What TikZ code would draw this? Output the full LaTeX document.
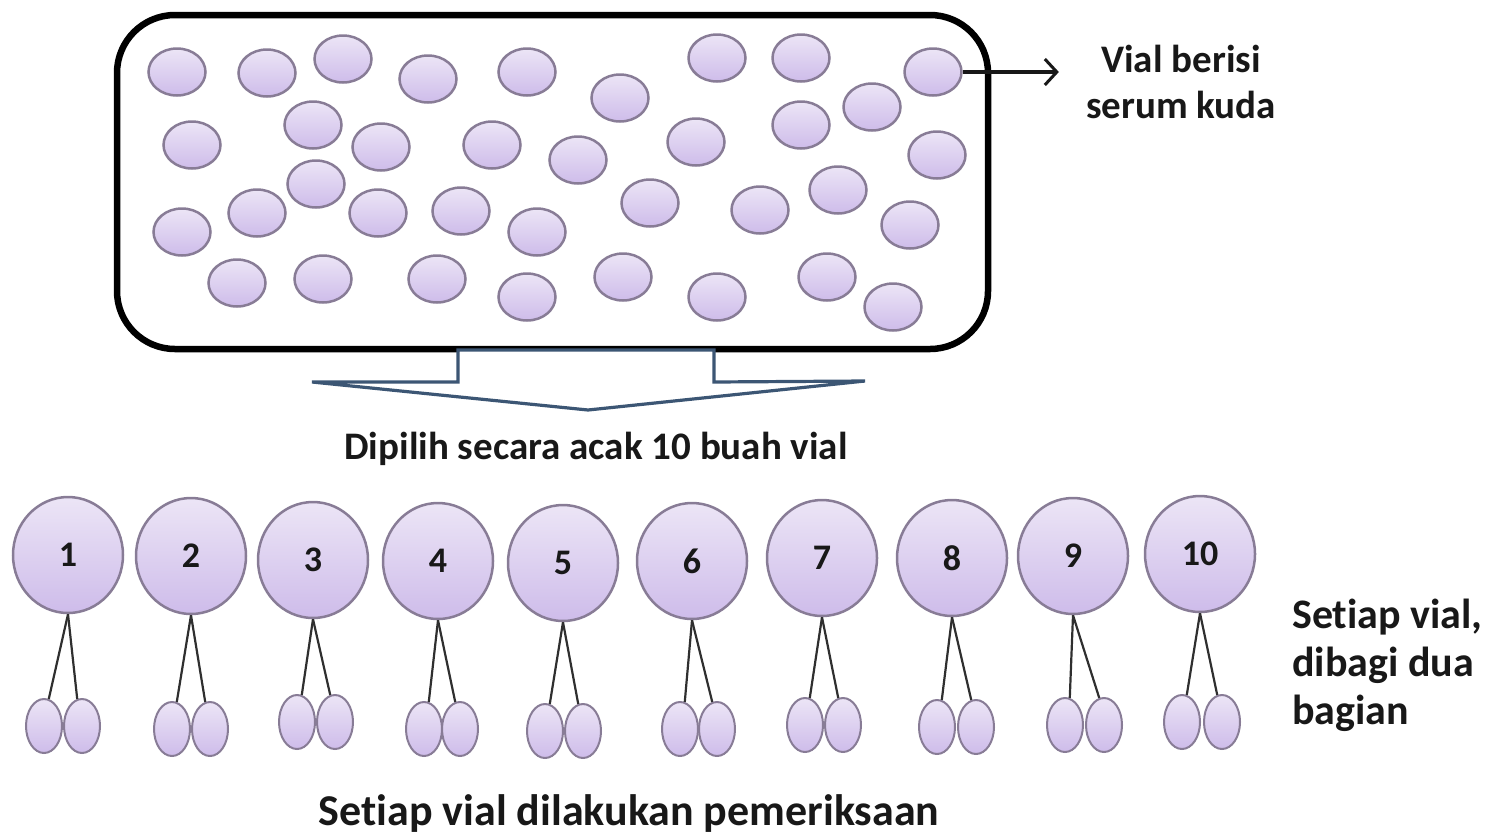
\documentclass[tikz,border=0pt]{standalone}
\usepackage{fontspec}
\setmainfont[Ligatures=NoCommon]{Carlito}
\usepackage{tikz}
\usetikzlibrary{arrows.meta,positioning,shapes.geometric}
\definecolor{vialfill}{RGB}{206,188,234}
\definecolor{vialtop}{RGB}{236,229,246}
\definecolor{vialrim}{RGB}{136,124,150}
\definecolor{arrowblue}{RGB}{60,86,116}
\definecolor{inkgray}{RGB}{24,24,24}

\begin{document}
\begin{tikzpicture}[
  x=1pt, y=-1pt,
  vial/.style={
    ellipse,
    draw=vialrim,
    line width=2.5pt,
    top color=vialtop,
    bottom color=vialfill,
    inner sep=0pt
  },
  dot/.style={vial,minimum width=57pt,minimum height=47pt},
  bigvial/.style={vial,minimum width=110pt,minimum height=116pt,
    font=\bfseries\fontsize{36}{40}\selectfont,text=inkgray},
  half/.style={vial,line width=2pt,minimum width=36pt,minimum height=54pt},
  stem/.style={draw=inkgray!90,line width=2.2pt},
  pointer/.style={-{Straight Barb[length=12pt,width=26pt,line width=3pt]},
    line width=3.5pt,draw=inkgray},
  caption/.style={font=\bfseries\fontsize{39}{46}\selectfont,text=inkgray,
    align=center,inner sep=0pt}
]
\useasboundingbox (0,0) rectangle (1493,839);

\node[draw,line width=6.5pt,rounded corners=58pt,minimum width=871pt,
  minimum height=334pt] (box) at (552.5,182) {};

\foreach \px/\py [count=\k] in {177/72,267/73,343/59,428/79,527/72,620/98,
    717/58,801/58,933/72,872/107,192/145,313/125,381/147,492/145,578/160,
    696/142,801/125,937/155,316/184,257/213,182/232,378/213,461/211,537/232,
    650/203,760/210,838/190,910/225,237/283,323/279,437/279,527/297,623/277,
    717/297,827/277,893/307}
  \node[dot] (c\k) at (\px,\py) {};

\draw[draw=arrowblue,line width=3.2pt,fill=white,line join=miter]
  (312,382) -- (458,382) -- (458,350) -- (714,350) -- (714,382)
  -- (865,381) -- (588,410) -- cycle;

\node[caption] (serum) at (1181,82) {Vial berisi\\serum kuda};
\draw[pointer,shorten >=27pt] (c9.east) -- (c9.east -| serum.west);

\node[caption] (pick) at (596,449) {Dipilih secara acak 10 buah vial};

\foreach \i/\cx/\cy/\lx/\rx/\ey in {1/68/555/44/82/726,2/191/556/172/210/729,
    3/313/560/297/335/722,4/438/561/424/460/729,5/563/563/545/583/731,
    6/692/561/680/717/729,7/822/558/805/843/725,8/952/558/937/976/727,
    9/1073/556/1065/1104/725,10/1200/554/1182/1222/722}{
  \node[bigvial] (v\i) at (\cx,\cy) {\i};
  \node[half] (l\i) at (\lx,\ey) {};
  \node[half] (r\i) at (\rx,\ey) {};
  \draw[stem] (v\i.south) -- (l\i.80);
  \draw[stem] (v\i.south) -- (r\i.100);
}

\node[caption,align=left,anchor=west,font=\bfseries\fontsize{42}{48}\selectfont]
  (split) at (1292,665) {Setiap vial,\\dibagi dua\\bagian};

\node[caption,font=\bfseries\fontsize{44}{50}\selectfont] (check) at (629,814)
  {Setiap vial dilakukan pemeriksaan};
\end{tikzpicture}
\end{document}
